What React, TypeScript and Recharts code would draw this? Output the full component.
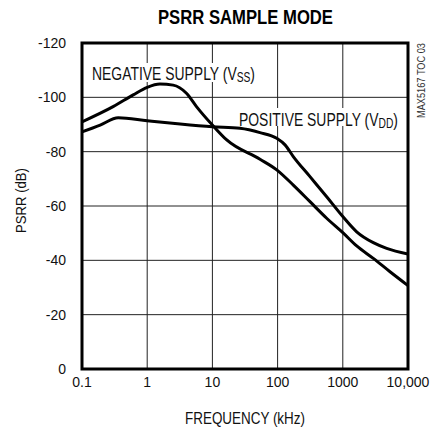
import { LineChart, Line, XAxis, YAxis, CartesianGrid, ReferenceArea } from 'recharts';

// Negative supply (VSS) curve
const negFreq = [0.1, 0.3, 0.61, 1, 1.57, 2.5, 4, 5.7, 10, 16.6, 53.7, 97, 174, 314, 566, 1000, 1633, 2937, 5300, 10000];
const negDb = [-91, -96.6, -100.9, -103.7, -104.9, -104.5, -101.5, -96.6, -89.8, -84.3, -77.2, -73.3, -67.7, -61.6, -55.5, -50.2, -45.3, -40.7, -35.8, -30.7];

// Positive supply (VDD) curve
const posFreq = [0.1, 0.19, 0.36, 1, 3.2, 10, 26.5, 53.7, 97, 130, 174, 314, 566, 1000, 1633, 2937, 4710, 10000];
const posDb = [-87.3, -89.8, -92.5, -91.4, -90.2, -89.2, -88.6, -87.0, -84.9, -82.5, -78.2, -70.8, -63.4, -56.1, -50.5, -46.5, -44.4, -42.3];

const xTicks = [0.1, 1, 10, 100, 1000, 10000];
const yTicks = [-120, -100, -80, -60, -40, -20, 0];

const negData = negFreq.map((f, i) => ({ f, db: negDb[i] }));
const posData = posFreq.map((f, i) => ({ f, db: posDb[i] }));

const font = '"Liberation Sans", Arial, sans-serif';

const fmtX = (v: number) => (v === 10000 ? '10,000' : String(v));

export default function App() {
  return (
    <div style={{ position: 'absolute', left: 0, top: 0, width: 440, height: 432, background: '#fff', fontFamily: font }}>
      <LineChart width={440} height={432} margin={{ top: 43, right: 32, bottom: 0, left: 0 }} style={{ fontFamily: font }}>
        <CartesianGrid stroke="#222" strokeWidth={1} />
        <XAxis
          dataKey="f"
          type="number"
          scale="log"
          domain={[0.1, 10000]}
          ticks={xTicks}
          tickFormatter={fmtX}
          allowDataOverflow
          height={63}
          tickSize={0}
          tickMargin={8}
          axisLine={false}
          tick={{ fill: '#111', fontSize: 14 }}
          interval={0}
        />
        <YAxis
          type="number"
          domain={[-120, 0]}
          ticks={yTicks}
          reversed
          width={82}
          tickSize={0}
          tickMargin={16}
          axisLine={false}
          tick={{ fill: '#111', fontSize: 14 }}
          interval={0}
        />
        <ReferenceArea x1={0.1} x2={10000} y1={-120} y2={0} fill="none" stroke="#000" strokeWidth={3} />
        <Line data={negData} dataKey="db" type="monotone" stroke="#000" strokeWidth={3} dot={false} isAnimationActive={false} />
        <Line data={posData} dataKey="db" type="monotone" stroke="#000" strokeWidth={3} dot={false} isAnimationActive={false} />
      </LineChart>
      {/* annotations */}
      <svg width={440} height={432} style={{ position: 'absolute', left: 0, top: 0, pointerEvents: 'none', fontFamily: font }}>
        <text x={245.5} y={24} textAnchor="middle" fontSize={19.5} fontWeight="bold" fill="#000" textLength={175} lengthAdjust="spacingAndGlyphs">
          PSRR SAMPLE MODE
        </text>
        <rect x={90} y={63} width={167} height={19} fill="#fff" />
        <text x={92} y={79.5} fontSize={19} fill="#111" textLength={163} lengthAdjust="spacingAndGlyphs">
          NEGATIVE SUPPLY (V<tspan fontSize={14} dy={2}>SS</tspan><tspan dy={-2}>)</tspan>
        </text>
        <rect x={237} y={108} width={163} height={18} fill="#fff" />
        <text x={239} y={126} fontSize={19} fill="#111" textLength={159} lengthAdjust="spacingAndGlyphs">
          POSITIVE SUPPLY (V<tspan fontSize={14} dy={2}>DD</tspan><tspan dy={-2}>)</tspan>
        </text>
        <text x={245} y={424} textAnchor="middle" fontSize={16} fill="#111" textLength={120} lengthAdjust="spacingAndGlyphs">
          FREQUENCY (kHz)
        </text>
        <text transform="translate(25.5,200.5) rotate(-90)" textAnchor="middle" fontSize={15} fill="#111" textLength={65} lengthAdjust="spacingAndGlyphs">
          PSRR (dB)
        </text>
        <text transform="translate(424.5,80.5) rotate(-90)" textAnchor="middle" fontSize={10} fill="#333" textLength={75} lengthAdjust="spacingAndGlyphs">
          MAX5167 TOC 03
        </text>
      </svg>
    </div>
  );
}
